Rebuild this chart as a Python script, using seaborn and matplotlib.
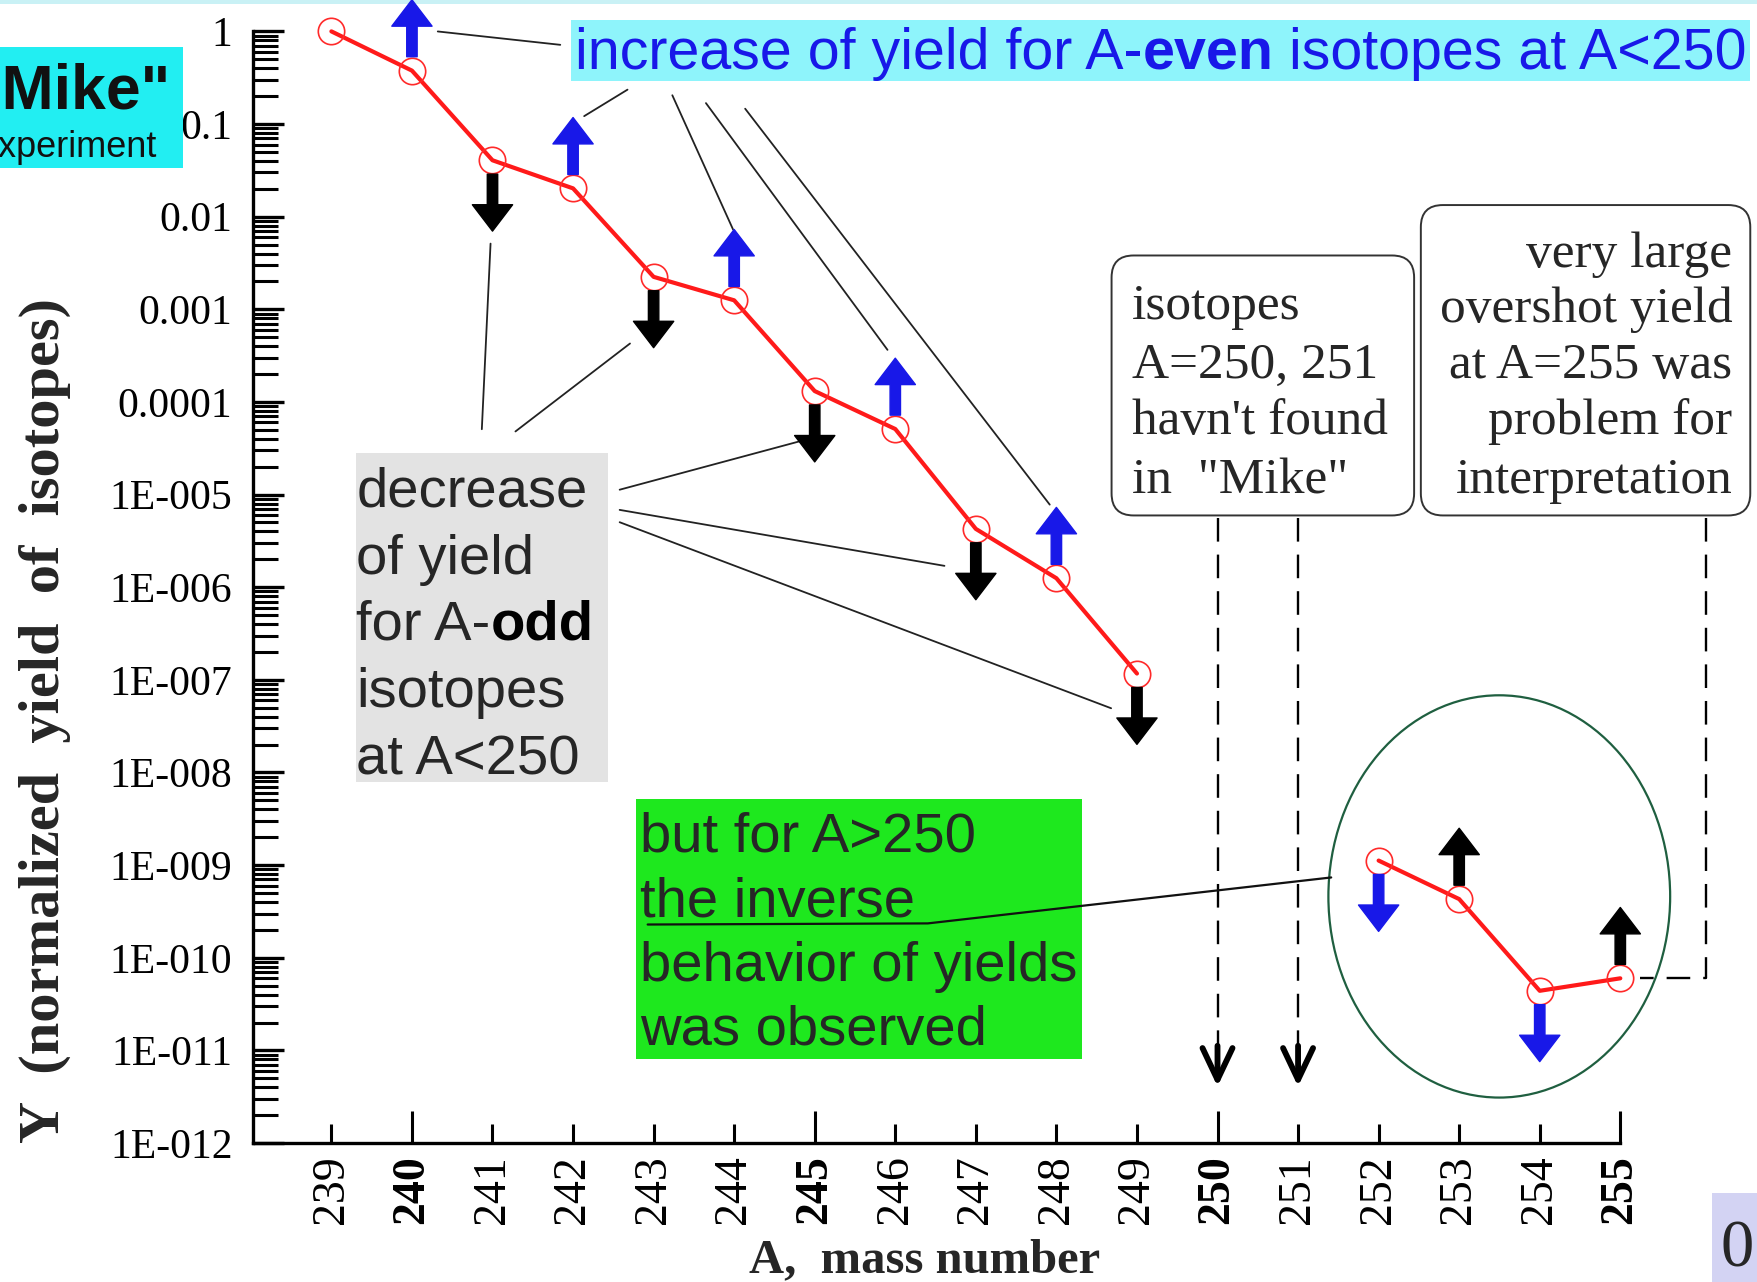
import numpy as np
import pandas as pd
import matplotlib
matplotlib.use("Agg")
import matplotlib.pyplot as plt
import seaborn as sns
from matplotlib.patches import Rectangle, FancyBboxPatch, Ellipse
from matplotlib.lines import Line2D
from matplotlib.text import Annotation
from matplotlib.transforms import offset_copy
from matplotlib.ticker import FixedLocator, FixedFormatter, LogLocator, NullFormatter

# ---------------- data ----------------
mass_low = [239, 240, 241, 242, 243, 244, 245, 246, 247, 248, 249]
yield_low = [1.0, 0.377, 0.0406, 0.0202, 2.24e-3, 1.25e-3, 1.31e-4, 5.1e-5, 4.26e-6, 1.25e-6, 1.17e-7]
mass_high = [252, 253, 254, 255]
yield_high = [1.12e-9, 4.3e-10, 4.4e-11, 6.0e-11]

x_major = [240, 245, 250, 255]
x_minor = [239, 241, 242, 243, 244, 246, 247, 248, 249, 251, 252, 253, 254]
y_ticks = [1, 1e-1, 1e-2, 1e-3, 1e-4, 1e-5, 1e-6, 1e-7, 1e-8, 1e-9, 1e-10, 1e-11, 1e-12]
y_tick_labels = ["1", "0.1", "0.01", "0.001", "0.0001", "1E-005", "1E-006", "1E-007",
                 "1E-008", "1E-009", "1E-010", "1E-011", "1E-012"]

up_blue = [240, 242, 244, 246, 248]
down_black = [241, 243, 245, 247, 249]
down_blue = [252, 254]
up_black = [253, 255]
missing = [250, 251]

# ---------------- style ----------------
sns.set_style("ticks")
plt.rcParams["font.family"] = ["Liberation Serif", "DejaVu Serif"]
SANS = ["Liberation Sans", "DejaVu Sans"]
SERIF = ["Liberation Serif", "DejaVu Serif"]

W_D, H_D = 1568.0, 1144.0
S = 1757.0 / 1568.0
FIG_W, FIG_H = 17.57, 12.82


def fp(x, y):
    return (x / W_D, 1 - y / H_D)


def inch(x, y):
    return (x * S / 100.0, FIG_H - y * S / 100.0)


def dlen(v):
    return v * S / 100.0


fig = plt.figure(figsize=(FIG_W, FIG_H), dpi=100)
fig.patch.set_facecolor("white")
ax = fig.add_axes([226 / W_D, 1 - 1020 / H_D, (1446 - 226) / W_D, (1020 - 28) / H_D])
ax.set_facecolor("none")
ax.set_yscale("log")

df = pd.DataFrame({
    "A": mass_low + mass_high,
    "Y": yield_low + yield_high,
    "grp": ["low"] * len(mass_low) + ["high"] * len(mass_high),
})
sns.lineplot(data=df, x="A", y="Y", units="grp", estimator=None, ax=ax,
             color="#ff1a1a", lw=3.0, marker="o", markersize=19,
             markerfacecolor="none", markeredgecolor="#ff2a2a", markeredgewidth=1.2)
for ln in ax.lines:
    ln.set_clip_on(False)
    ln.set_zorder(5)

ax.set_xlim(238.03, 255)
ax.set_ylim(1e-12, 1)
ax.set_xlabel("")
ax.set_ylabel("")
for side in ["top", "right"]:
    ax.spines[side].set_visible(False)
for side in ["left", "bottom"]:
    ax.spines[side].set_linewidth(2.4)
    ax.spines[side].set_color("black")

ax.yaxis.set_major_locator(FixedLocator(y_ticks))
ax.yaxis.set_major_formatter(FixedFormatter(y_tick_labels))
ax.yaxis.set_minor_locator(LogLocator(base=10, subs=np.arange(2, 10), numticks=200))
ax.yaxis.set_minor_formatter(NullFormatter())
ax.tick_params(axis="y", which="both", left=True, right=False)
ax.tick_params(axis="y", which="major", direction="in", length=22, width=2.4,
               pad=15, labelsize=30, colors="black")
ax.tick_params(axis="y", which="minor", direction="in", length=18, width=2.2, colors="black")

ax.set_xticks(x_major, labels=[str(v) for v in x_major])
ax.set_xticks(x_minor, labels=[str(v) for v in x_minor], minor=True)
ax.tick_params(axis="x", which="both", bottom=True, top=False)
ax.tick_params(axis="x", which="major", direction="in", length=23, width=2.2,
               pad=9, labelsize=33, labelrotation=90, colors="black")
ax.tick_params(axis="x", which="minor", direction="in", length=14, width=2.2,
               pad=9, labelsize=33, labelrotation=90, colors="black")
for lbl in ax.get_xticklabels():
    lbl.set_fontweight("bold")

fig.text(*fp(40, 643), "Y  (normalized  yield  of  isotopes)", rotation=90,
         fontsize=42, fontweight="bold", family=SERIF, ha="center", va="center")
fig.text(*fp(825, 1125), "A,  mass number", fontsize=35, fontweight="bold",
         family=SERIF, ha="center", va="center")

yield_of = dict(zip(mass_low + mass_high, yield_low + yield_high))


def off(dx, dy):
    return offset_copy(ax.transData, fig=fig, x=dx, y=dy, units="points")


def arrow(a, sign, color):
    y = yield_of[a]
    ax.annotate("", xy=(a, y), xycoords=off(0, sign * 51),
                xytext=(a, y), textcoords=off(0, sign * 10),
                arrowprops=dict(arrowstyle="simple,head_length=1.9,head_width=2.9,tail_width=0.75",
                                mutation_scale=10, color=color, shrinkA=0, shrinkB=0),
                annotation_clip=False, zorder=6)


BLUE = "#1818e8"
for a in up_blue:
    arrow(a, 1, BLUE)
for a in down_black:
    arrow(a, -1, "black")
for a in down_blue:
    arrow(a, -1, BLUE)
for a in up_black:
    arrow(a, 1, "black")


def chain(prev, s, **kw):
    an = Annotation(s, xy=(1, 0), xycoords=prev, ha="left", va="bottom",
                    annotation_clip=False, **kw)
    an.set_zorder(3)
    fig.add_artist(an)
    return an


# ---------------- decorative boxes ----------------
fig.add_artist(Rectangle((0, 1 - 4 / H_D), 1, 4 / H_D, transform=fig.transFigure,
                         facecolor="#c9f1f5", edgecolor="none", zorder=0))

# "Mike" experiment box (text runs off the left edge, as in the original slide)
fig.add_artist(Rectangle(inch(0, 150), dlen(163), dlen(108), transform=fig.dpi_scale_trans,
                         facecolor="#22eef2", edgecolor="none", zorder=1))
fig.text(*fp(152, 97), '"Mike"', fontsize=45, fontweight="bold", family=SANS,
         ha="right", va="baseline", color="#111111", zorder=3)
fig.text(*fp(140, 140), "experiment", fontsize=26, family=SANS,
         ha="right", va="baseline", color="#111111", zorder=3)

# top "increase" box
TOPFS = 41.3
fig.add_artist(Rectangle(inch(510, 72), dlen(1052), dlen(54), transform=fig.dpi_scale_trans,
                         facecolor="#8ef4fb", edgecolor="none", zorder=1))
t1 = fig.text(*fp(513, 62), "increase of yield for A-", fontsize=TOPFS, family=SANS,
              color=BLUE, ha="left", va="baseline", zorder=3)
t2 = chain(t1, "even", fontsize=TOPFS, family=SANS, fontweight="bold", color=BLUE)
t3 = chain(t2, " isotopes at A<250", fontsize=TOPFS, family=SANS, color=BLUE)

inc_leaders = [(240, 18.6, 28.2, (500, 40)), (242, 8.0, 52.0, (560, 80)),
               (244, -0.8, 51.0, (600, 85)), (246, -5.6, 57.0, (630, 92)),
               (248, -4.8, 53.0, (665, 97))]
for a, dx, dy, tp in inc_leaders:
    ax.annotate("", xy=(a, yield_of[a]), xycoords=off(dx, dy), xytext=fp(*tp),
                textcoords="figure fraction",
                arrowprops=dict(arrowstyle="-", color="#222222", lw=1.3, shrinkA=0, shrinkB=0),
                annotation_clip=False)

# gray "decrease" box
GFS = 40.5
fig.add_artist(Rectangle(inch(318, 698), dlen(225), dlen(294), transform=fig.dpi_scale_trans,
                         facecolor="#e3e3e3", edgecolor="none", zorder=1))
gx = 318
fig.text(*fp(gx, 452), "decrease", fontsize=GFS, family=SANS, ha="left", va="baseline", zorder=3)
fig.text(*fp(gx, 512), "of yield", fontsize=GFS, family=SANS, ha="left", va="baseline", zorder=3)
g3 = fig.text(*fp(gx, 571), "for A-", fontsize=GFS, family=SANS, ha="left", va="baseline", zorder=3)
chain(g3, "odd", fontsize=GFS, family=SANS, fontweight="bold", color="black")
fig.text(*fp(gx, 631), "isotopes", fontsize=GFS, family=SANS, ha="left", va="baseline", zorder=3)
fig.text(*fp(gx, 691), "at A<250", fontsize=GFS, family=SANS, ha="left", va="baseline", zorder=3)

dec_leaders = [(241, -1.4, -60.0, (430, 383)), (243, -17.0, -48.0, (460, 385)),
               (245, -6.5, -35.0, (553, 437)), (247, -22.6, -26.6, (553, 455)),
               (249, -18.6, -25.0, (553, 466))]
for a, dx, dy, tp in dec_leaders:
    ax.annotate("", xy=(a, yield_of[a]), xycoords=off(dx, dy), xytext=fp(*tp),
                textcoords="figure fraction",
                arrowprops=dict(arrowstyle="-", color="#222222", lw=1.3, shrinkA=0, shrinkB=0),
                annotation_clip=False)

# green box
fig.add_artist(Rectangle(inch(568, 945), dlen(398), dlen(232), transform=fig.dpi_scale_trans,
                         facecolor="#1ee81e", edgecolor="none", zorder=1))
for yb, s in [(760, "but for A>250"), (818, "the inverse"), (875, "behavior of yields"),
              (932, "was observed")]:
    fig.text(*fp(571, yb), s, fontsize=40.5, family=SANS, ha="left", va="baseline", zorder=3)
px = [fp(578, 825), fp(828, 824), fp(1188, 783)]
fig.add_artist(Line2D([p[0] for p in px], [p[1] for p in px], transform=fig.transFigure,
                      color="#111111", lw=1.6, zorder=4))

# ellipse around A>250 points
fig.add_artist(Ellipse(inch(1338, 800), dlen(305), dlen(359), transform=fig.dpi_scale_trans,
                       facecolor="none", edgecolor="#1f5f40", lw=1.6, zorder=2))

# rounded boxes
fig.add_artist(FancyBboxPatch(inch(992, 460), dlen(270), dlen(232),
                              boxstyle="round,pad=0,rounding_size=0.22",
                              transform=fig.dpi_scale_trans, facecolor="white",
                              edgecolor="#333333", lw=1.4, zorder=1))
fig.add_artist(FancyBboxPatch(inch(1268, 460), dlen(294), dlen(277),
                              boxstyle="round,pad=0,rounding_size=0.22",
                              transform=fig.dpi_scale_trans, facecolor="white",
                              edgecolor="#333333", lw=1.4, zorder=1))
for yb, s in [(285, "isotopes"), (337, "A=250, 251"), (387, "havn't found"),
              (440, 'in  "Mike"')]:
    fig.text(*fp(1010, yb), s, fontsize=37, family=SERIF, ha="left", va="baseline", zorder=3)
for yb, s in [(238, "very large"), (287, "overshot yield"), (337, "at A=255 was"),
              (387, "problem for"), (440, "interpretation")]:
    fig.text(*fp(1546, yb), s, fontsize=37, family=SERIF, ha="right", va="baseline", zorder=3)

# dashed pointers to missing isotopes 250, 251
y_top, y_tip = 10 ** -5.25, 10 ** -11.39
for a in missing:
    ax.plot([a, a], [y_top, 10 ** -11.1], color="black", lw=1.7,
            linestyle=(0, (10, 5.5)), clip_on=False, zorder=4)
    ax.annotate("", xy=(a, y_tip), xytext=(a, 10 ** -10.95),
                arrowprops=dict(arrowstyle="->,head_length=0.95,head_width=0.45",
                                mutation_scale=24, color="black", lw=4.2,
                                shrinkA=0, shrinkB=0),
                annotation_clip=False)

# dashed pointer to A=255 point
y255 = yield_of[255]
ax.plot([256.06, 256.06, 255.25], [y_top, y255, y255], color="black", lw=1.7,
        linestyle=(0, (10, 5.5)), clip_on=False, zorder=4)

# slide number box bottom-right
fig.add_artist(Rectangle(inch(1528, 1144), dlen(40), dlen(79), transform=fig.dpi_scale_trans,
                         facecolor="#d3d3f3", edgecolor="none", zorder=1))
fig.text(*fp(1535, 1130), "0", fontsize=48, family=SERIF, ha="left", va="baseline", zorder=3)

fig.savefig("out.png", dpi=100, facecolor="white")
